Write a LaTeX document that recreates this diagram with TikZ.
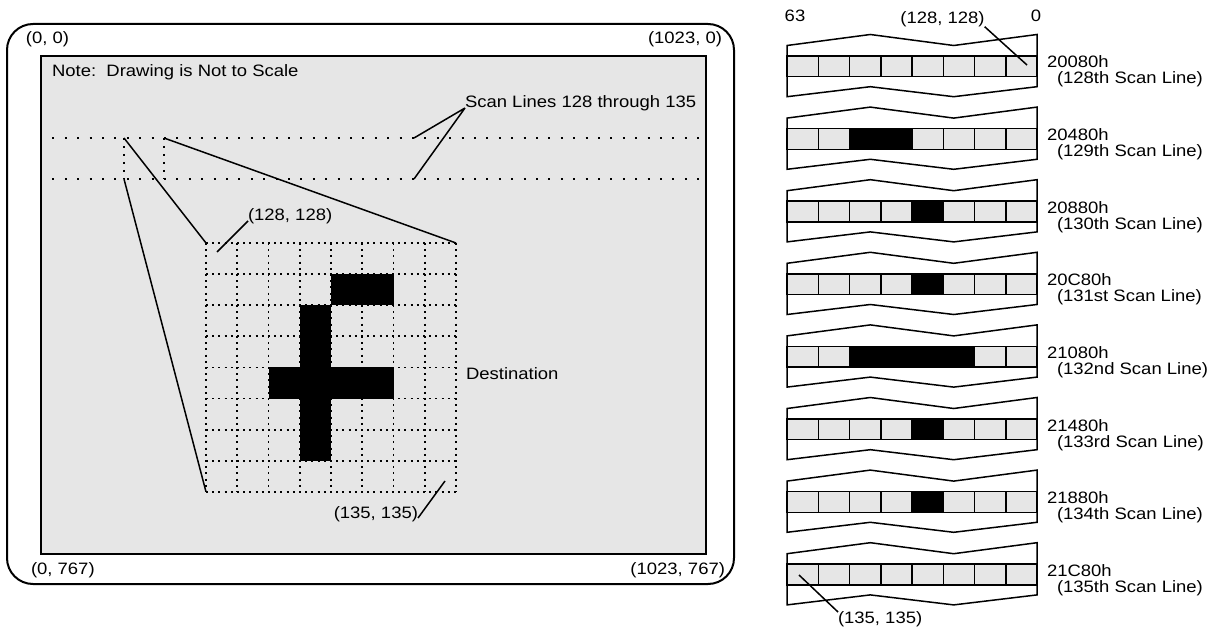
\documentclass[tikz,border=0pt]{standalone}
\usepackage{fontspec}
\setmainfont{Liberation Sans}[FakeStretch=1.12]
\usetikzlibrary{positioning,calc}
\definecolor{screengray}{HTML}{E6E6E6}

\begin{document}
\begin{tikzpicture}[
    x=1pt, y=-1pt,
    font=\fontsize{16.5}{15}\selectfont,
    txt/.style={inner sep=0pt, outer sep=0pt},
    leader/.style={line width=1.5pt},
    scanline/.style={line width=2pt, dash pattern=on 2pt off 10.4pt},
    zoomedge/.style={line width=2pt, dash pattern=on 2pt off 6pt},
    pixgrid/.style={line width=1.8pt, dash pattern=on 2pt off 4.2pt},
    pixel/.style={fill=black},
    cell/.style={fill=screengray, draw=black, line width=1.5pt},
    band/.style={draw=black, line width=1.5pt, line join=miter}
]
\useasboundingbox (0,0) rectangle (1207,628);

% black pixels of the glyph: row/column in the 8x8 block
\def\glyph{1/4,1/5,2/3,3/3,4/2,4/3,4/4,4/5,5/3,6/3}

% Display frame and screen
\draw[line width=2pt, rounded corners=26pt] (7,24) rectangle (734,584);
\node[draw, line width=2pt, fill=screengray, inner sep=0pt, anchor=north west,
    minimum width=665pt, minimum height=498pt] (screen) at (40,55) {};

% Corner coordinates of the screen
\node[txt] (c00) at (47.5,39) {(0, 0)};
\node[txt, anchor=east] (c10) at (722,39) {(1023, 0)};
\node[txt, anchor=west] (c01) at (31,570) {(0, 767)};
\node[txt, anchor=east] (c11) at (725,570) {(1023, 767)};
\node[txt, anchor=base west] (note) at (52,77) {Note:\ \ Drawing is Not to Scale};

% Scan lines 128 and 135 across the screen
\draw[scanline] (screen.west |- 0,138) -- (screen.east |- 0,138);
\draw[scanline] (screen.west |- 0,179) -- (screen.east |- 0,179);

% Small block on the scan lines
\coordinate (zA) at (124,138);
\coordinate (zB) at (164,138);
\coordinate (zC) at (124,179);
\coordinate (zD) at (164,179);
\draw[zoomedge] (zA) -- (zC) (zB) -- (zD);

% Magnified 8x8 destination block
\begin{scope}[shift={(206,243)}, x=31.25pt, y=-31.1pt]
    \foreach \i in {0,...,8} {
        \draw[pixgrid] (\i,0) -- (\i,8);
        \draw[pixgrid] (0,\i) -- (8,\i);
    }
    \foreach \r/\c in \glyph
        \fill[pixel] (\c,\r) rectangle ++(1,1);
    \coordinate (gNW) at (0,0);
    \coordinate (gNE) at (8,0);
    \coordinate (gSW) at (0,8);
\end{scope}

\draw[leader] (zA) -- (gNW);
\draw[leader] (zC) -- (gSW);
\draw[leader] (zB) -- (gNE);

% Labels on the left panel
\node[txt, anchor=base west] (scantxt) at (465,108) {Scan Lines 128 through 135};
\coordinate (sl1) at (414,138);
\coordinate (sl2) at (414,179);
\draw[leader] (scantxt.base west) -- (sl1) (scantxt.base west) -- (sl2);

\node[txt, anchor=base west] (origin) at (248,221) {(128, 128)};
\coordinate (px0) at (217,252);
\draw[leader] (origin.base west) -- (px0);

\node[txt, anchor=base west] (dest) at (466,379) {Destination};

\node[txt, anchor=base east] (corner) at (418,518) {(135, 135)};
\coordinate (px63) at (445,481);
\draw[leader] (corner.base east) -- (px63);

% Memory strips, one per scan line
\foreach \addr/\ord [count=\k from 0] in {20080h/128th, 20480h/129th, 20880h/130th,
        20C80h/131st, 21080h/132nd, 21480h/133rd, 21880h/134th, 21C80h/135th} {
    \pgfmathsetmacro{\yy}{56+72.6*\k}
    \begin{scope}[shift={(787,\yy)}]
        \draw[band] (0,0) -- (0,-10.5) -- (83.3,-21.5) -- (166.7,-10.5) -- (250,-21.5) -- (250,0);
        \draw[band] (0,20.7) -- (0,40.7) -- (83.3,30.7) -- (166.7,40.7) -- (250,30.7) -- (250,20.7);
        \foreach \c in {0,...,7}
            \draw[cell] (\c*31.25,0) rectangle ++(31.25,20.7);
    \end{scope}
    \node[txt, anchor=base west] (addr\k) at (1047,\yy+12) {\addr};
    \node[txt, anchor=base west] (line\k) at (1057,\yy+28) {(\ord\ Scan Line)};
}

% Pixels stored in the strips (bit 63 on the left)
\foreach \r/\c in \glyph
    \fill[pixel] ({787+31.25*(7-\c)}, {56+72.6*\r}) rectangle ++(31.25,20.7);

% Bit numbers and pointers
\node[txt] (msb) at (795,16) {63};
\node[txt] (lsb) at (1036,16) {0};
\node[txt] (first) at (942.5,19) {(128, 128)};
\coordinate (bit0) at (1027,65);
\draw[leader] (first.south east) -- (bit0);
\node[txt, anchor=north west] (last) at (838,612) {(135, 135)};
\coordinate (bit63) at (799,575);
\draw[leader] (last.north west) -- (bit63);

\end{tikzpicture}
\end{document}
